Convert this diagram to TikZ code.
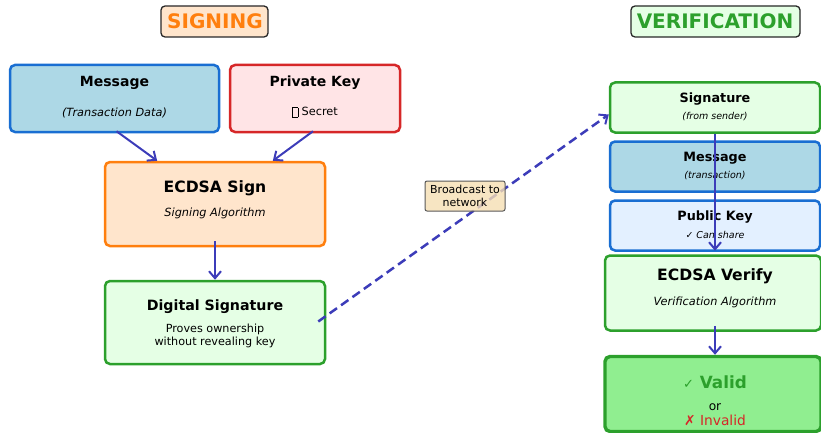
\documentclass[tikz,border=0pt]{standalone}
\usepackage{fontspec}
\setmainfont{DejaVu Sans}
\usetikzlibrary{arrows.meta,calc}
\definecolor{arrowc}{RGB}{60,60,185}
\definecolor{bluec}{RGB}{25,110,210}
\definecolor{lightbluec}{HTML}{ADD8E6}
\definecolor{redc}{HTML}{D62728}
\definecolor{pinkc}{RGB}{255,228,230}
\definecolor{orangec}{HTML}{FF7F0E}
\definecolor{peachc}{RGB}{255,229,204}
\definecolor{greenc}{HTML}{2CA02C}
\definecolor{mintc}{RGB}{229,255,229}
\definecolor{paleblue}{RGB}{227,240,255}
\definecolor{validc}{HTML}{90EE90}
\definecolor{wheatc}{HTML}{F5DEB3}
\definecolor{titleborder}{RGB}{40,40,40}
\newcommand{\tofubox}{\raisebox{-1.5pt}{\fboxsep=0pt\fboxrule=0.45pt\fbox{\rule{0pt}{9.5pt}\hspace{5pt}}}}
\begin{document}
\begin{tikzpicture}[x=1pt,y=-1pt,
  box/.style={draw, rounded corners=5pt, line width=2.5pt, inner sep=0pt},
  titlebox/.style={draw=titleborder, rounded corners=4pt, line width=1.3pt, inner sep=0pt},
  txt/.style={inner sep=0pt, align=center, yshift=-1.5pt},
  arr/.style={draw=arrowc, line width=2pt, -{Straight Barb[length=7pt,width=12pt,line width=2pt]}},
  fT/.style={font=\fontsize{20}{23}\selectfont\bfseries},
  fH/.style={font=\fontsize{14}{16}\selectfont\bfseries},
  fHs/.style={font=\fontsize{12.8}{15}\selectfont\bfseries},
  fA/.style={font=\fontsize{15.6}{18}\selectfont\bfseries},
  fI/.style={font=\fontsize{11.3}{13}\selectfont\itshape},
  fIs/.style={font=\fontsize{9.5}{11}\selectfont\itshape},
  fR/.style={font=\fontsize{11.3}{13}\selectfont}]
\useasboundingbox (0,0) rectangle (821,433);
\clip (0,0) rectangle (821,433);

% titles
\node[titlebox, fill=peachc, minimum width=107pt, minimum height=31pt] (tsign) at (214.5,21.5) {};
\node[txt, fT, text=orangec] (tsignt) at (215,20) {SIGNING};
\node[titlebox, fill=mintc, minimum width=169pt, minimum height=31pt] (tver) at (715.5,21.5) {};
\node[txt, fT, text=greenc] (tvert) at (715,20) {VERIFICATION};

% signing side
\node[box, draw=bluec, fill=lightbluec, minimum width=209pt, minimum height=67pt] (msg) at (114.5,98.5) {};
\node[txt, fH] (msgt) at (114.5,81) {Message};
\node[txt, fI] (msgs) at (114.5,111) {(Transaction Data)};

\node[box, draw=redc, fill=pinkc, minimum width=170pt, minimum height=67pt] (pk) at (315,98.5) {};
\node[txt, fH] (pkt) at (315,81) {Private Key};
\node[txt, fR] (pks) at (315,111) {\tofubox\ Secret};

\node[box, draw=orangec, fill=peachc, minimum width=220pt, minimum height=84pt] (sign) at (215,204) {};
\node[txt, fA] (signt) at (215,187) {ECDSA Sign};
\node[txt, fI] (signs) at (215,212) {Signing Algorithm};

\node[box, draw=greenc, fill=mintc, minimum width=220pt, minimum height=83pt] (dsig) at (215,322.5) {};
\node[txt, font=\fontsize{14.2}{17}\selectfont\bfseries] (dsigt) at (215,305) {Digital Signature};
\node[txt, font=\fontsize{11.2}{12.5}\selectfont] (dsigs) at (215,334.5) {Proves ownership\\without revealing key};

% verification side
\node[box, draw=greenc, fill=mintc, minimum width=210pt, minimum height=50pt] (sig) at (715,107.5) {};
\node[txt, fHs] (sigt) at (715,98) {Signature};
\node[txt, fIs] (sigs) at (715,115) {(from sender)};

\node[box, draw=bluec, fill=lightbluec, minimum width=210pt, minimum height=50pt] (rmsg) at (715,166.5) {};
\node[txt, fHs] (rmsgt) at (715,157) {Message};
\node[txt, fIs] (rmsgs) at (715,174) {(transaction)};

\node[box, draw=bluec, fill=paleblue, minimum width=210pt, minimum height=50pt] (pub) at (715,225.5) {};
\node[txt, fHs] (pubt) at (715,216) {Public Key};
\node[txt, fIs] (pubs) at (715,233) {✓ Can share};

\node[box, draw=greenc, fill=mintc, minimum width=216pt, minimum height=75pt] (ver) at (713,293) {};
\node[txt, fA] (vert) at (715,275) {ECDSA Verify};
\node[txt, fI] (vers) at (715,301) {Verification Algorithm};

\node[box, draw=greenc, fill=validc, line width=3.4pt, minimum width=216pt, minimum height=75pt] (valid) at (713,394) {};
\node[txt, font=\fontsize{16.8}{19}\selectfont\bfseries, text=greenc] (validt) at (715,381) {{\mdseries\fontsize{13}{15}\selectfont ✓} Valid};
\node[txt, font=\fontsize{12.2}{14}\selectfont] (or) at (715,406) {or};
\node[txt, font=\fontsize{13.8}{15}\selectfont, text=redc] (inv) at (715,419) {✗ Invalid};

% connectors
\draw[arr] ($(msg.south)+(2,-2)$) -- ($(sign.north west)!0.24!(sign.north east)$);
\draw[arr] ($(pk.south)+(-2,-2)$) -- ($(sign.north west)!0.76!(sign.north east)$);
\draw[arr] ($(sign.south)+(0,-6)$) -- (dsig.north);
\draw[arrowc, line width=2.5pt, dash pattern=on 9pt off 5pt, -{Straight Barb[length=7pt,width=12pt,line width=2pt]}] ($(dsig.east)+(-8,-1)$) -- ($(sig.west)+(0,7)$);
\node[draw=gray!70!black, fill=wheatc, fill opacity=0.8, text opacity=1, rounded corners=2pt, line width=1pt, minimum width=80pt, minimum height=30pt, align=center, inner sep=1pt, font=\fontsize{11}{12.5}\selectfont] (bc) at (465,196) {Broadcast to\\network};
\draw[arr] (sig.south) -- ($(pub.south)+(0,-1)$);
\draw[arr] ($(ver.south)+(2,-6)$) -- ($(valid.north)+(2,0)$);
\end{tikzpicture}
\end{document}
